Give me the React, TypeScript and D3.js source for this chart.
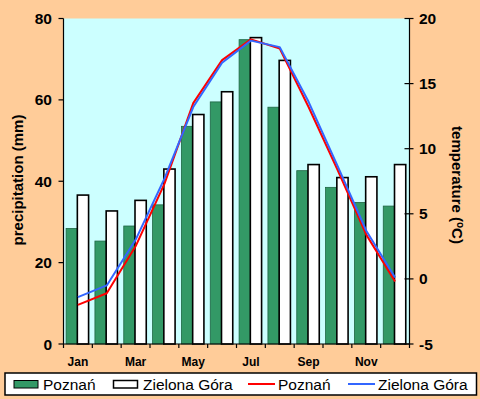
import React from "react";
import * as d3 from "d3";

const months = ["Jan", "Feb", "Mar", "Apr", "May", "Jun", "Jul", "Aug", "Sep", "Oct", "Nov", "Dec"];
const precipPoznan = [28.4, 25.3, 29.0, 34.2, 53.5, 59.5, 74.8, 58.2, 42.6, 38.5, 34.8, 33.9];
const precipZielona = [36.6, 32.7, 35.3, 43.0, 56.4, 62.0, 75.3, 69.7, 44.1, 40.9, 41.1, 44.1];
const tempPoznan = [-2.0, -1.1, 2.5, 7.3, 13.5, 16.8, 18.4, 17.7, 13.2, 8.4, 3.4, -0.2];
const tempZielona = [-1.4, -0.5, 3.0, 7.7, 13.2, 16.6, 18.3, 17.8, 13.6, 8.7, 3.7, 0.1];
const precipTicks = [0, 20, 40, 60, 80];
const tempTicks = [-5, 0, 5, 10, 15, 20];
const seriesBars = ["Poznań", "Zielona Góra"];

const W = 480, H = 399;
const L = 63.5, R = 409.5, T = 18.5, B = 344;
const FONT = "'Liberation Sans', Arial, sans-serif";

export default function App() {
  const x = d3.scaleBand<string>().domain(months).range([L, R]).padding(0);
  const bw = x.bandwidth();
  const xs = d3.scaleBand<string>().domain(seriesBars).range([bw * 0.09, bw * 0.87]).padding(0);
  const yP = d3.scaleLinear().domain([0, 80]).range([B, T]);
  const yT = d3.scaleLinear().domain([-5, 20]).range([B, T]);
  const cx = (m: string) => (x(m) as number) + bw / 2;
  const line = d3.line<number>().x((_, i) => cx(months[i])).y((d) => yT(d));

  return (
    <svg width={W} height={H} style={{ position: "fixed", left: 0, top: 0 }} fontFamily={FONT}>
      <rect x={0} y={0} width={W} height={H} fill="#FFCC99" />
      <rect x={L} y={T} width={R - L} height={B - T} fill="#CCFFFF" />
      {months.map((m, i) => (
        <g key={m}>
          <rect
            x={(x(m) as number) + (xs("Poznań") as number)}
            y={yP(precipPoznan[i])}
            width={xs.bandwidth()}
            height={B - yP(precipPoznan[i])}
            fill="#339966"
            stroke="#1E6644"
            strokeWidth={0.8}
          />
          <rect
            x={(x(m) as number) + (xs("Zielona Góra") as number)}
            y={yP(precipZielona[i])}
            width={xs.bandwidth()}
            height={B - yP(precipZielona[i])}
            fill="#FFFFFF"
            stroke="#000000"
            strokeWidth={1.6}
          />
        </g>
      ))}
      <path d={line(tempPoznan) || ""} fill="none" stroke="#FF0000" strokeWidth={2} strokeLinejoin="round" />
      <path d={line(tempZielona) || ""} fill="none" stroke="#3366FF" strokeWidth={2} strokeLinejoin="round" />
      {/* axes */}
      <line x1={L} x2={L} y1={T} y2={B} stroke="#000" strokeWidth={1.2} />
      <line x1={R} x2={R} y1={T} y2={B} stroke="#000" strokeWidth={1.2} />
      <line x1={L} x2={R} y1={B} y2={B} stroke="#000" strokeWidth={1.2} />
      {precipTicks.map((t) => (
        <g key={"p" + t}>
          <line x1={L - 5} x2={L} y1={yP(t)} y2={yP(t)} stroke="#000" strokeWidth={1.2} />
          <text x={52} y={yP(t)} dy="0.36em" textAnchor="end" fontSize={15.5} fontWeight="bold">{t}</text>
        </g>
      ))}
      {tempTicks.map((t) => (
        <g key={"t" + t}>
          <line x1={R - 5} x2={R + 4} y1={yT(t)} y2={yT(t)} stroke="#000" strokeWidth={1.2} />
          <text x={419} y={yT(t)} dy="0.36em" textAnchor="start" fontSize={15.5} fontWeight="bold">{t}</text>
        </g>
      ))}
      {[...months.map((m) => x(m) as number), R].map((v, i) => (
        <line key={"mt" + i} x1={v} x2={v} y1={B} y2={B + 4} stroke="#000" strokeWidth={1.2} />
      ))}
      {months.map((m, i) =>
        i % 2 === 0 ? (
          <text key={"ml" + m} x={cx(m)} y={366} textAnchor="middle" fontSize={12} fontWeight="bold">{m}</text>
        ) : null
      )}
      <text transform={`translate(23,180) rotate(-90)`} textAnchor="middle" fontSize={15} fontWeight="bold">
        precipitation (mm)
      </text>
      <text transform={`translate(452,185) rotate(90)`} textAnchor="middle" fontSize={15} fontWeight="bold">
        temperature (
        <tspan fontSize={10} dy={-5}>o</tspan>
        <tspan dy={5}>C)</tspan>
      </text>
      {/* legend */}
      <rect x={5} y={373} width={471.5} height={22} fill="#FFFFFF" stroke="#000" strokeWidth={1.5} />
      <rect x={14} y={380.5} width={24} height={7.5} fill="#339966" stroke="#000" strokeWidth={1} />
      <text x={43} y={390} fontSize={15.5}>{seriesBars[0]}</text>
      <rect x={113.5} y={380.5} width={24} height={7.5} fill="#FFFFFF" stroke="#000" strokeWidth={1.5} />
      <text x={143} y={390} fontSize={15.5}>{seriesBars[1]}</text>
      <line x1={248} x2={275} y1={384} y2={384} stroke="#FF0000" strokeWidth={2} />
      <text x={278} y={390} fontSize={15.5}>{seriesBars[0]}</text>
      <line x1={348} x2={375} y1={384} y2={384} stroke="#3366FF" strokeWidth={2} />
      <text x={378} y={390} fontSize={15.5}>{seriesBars[1]}</text>
    </svg>
  );
}
